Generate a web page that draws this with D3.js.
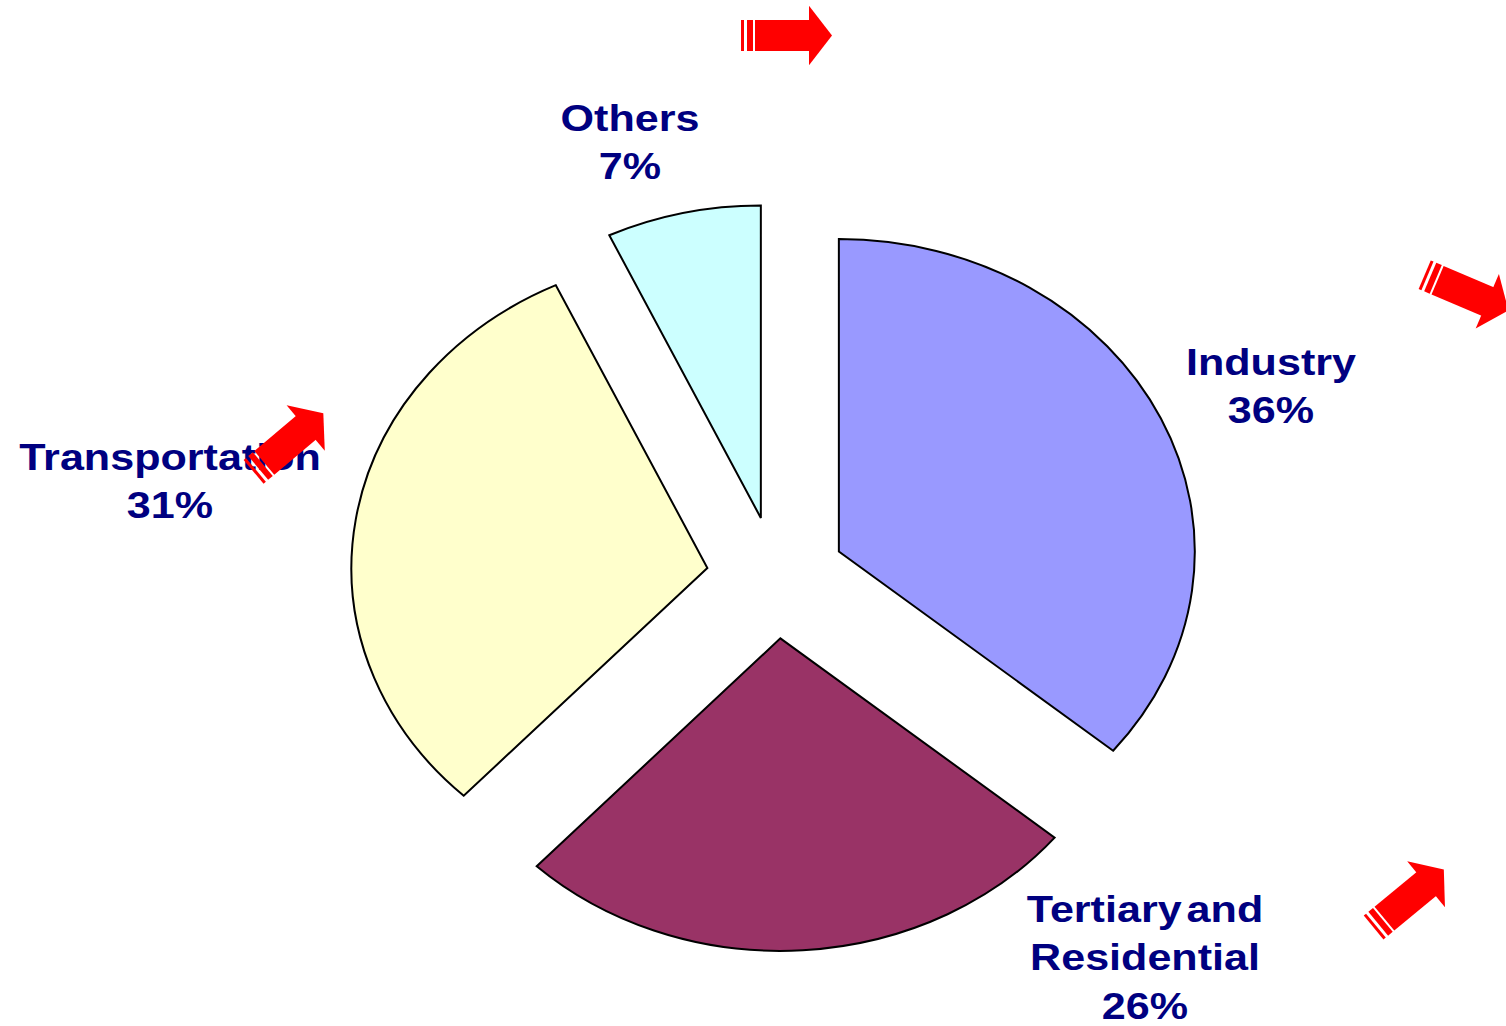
<!DOCTYPE html>
<html>
<head>
<meta charset="utf-8">
<script src="https://cdn.jsdelivr.net/npm/d3@7"></script>
<style>
  html, body { margin: 0; padding: 0; background: #fff; }
  svg { display: block; }
</style>
</head>
<body>
<div id="chart"></div>
<script>
// data
var categories = ["Industry", "Tertiary and Residential", "Transportation", "Others"];
var shares = [36, 26, 31, 7];
var colors = ["#9999ff", "#993366", "#ffffcc", "#ccffff"];
// label lines (category name may wrap)
var labelLines = [["Industry"], ["Tertiary and", "Residential"], ["Transportation"], ["Others"]];

// layout
var width = 1506,
  height = 1026;
var cx = 776,
  cy = 577.5,
  radius = 312.5,
  stretchX = 1.139, // the pie is drawn a bit wider than tall
  explode = 61;
var textStretch = 1.165,
  lineGap = 48.5;
// text anchors (centre x, first baseline)
var labelAnchors = [
  [1271, 375],
  [1145, 922],
  [170, 470],
  [630, 131]
];
// decorative red arrows: tail centre, angle in degrees
var arrows = [
  { x: 741, y: 35.5, angle: 0 },
  { x: 1424.7, y: 274.7, angle: 23 },
  { x: 253.6, y: 471.8, angle: -40 },
  { x: 1373.6, y: 927.5, angle: -39.5 }
];

var svg = d3
  .select("#chart")
  .append("svg")
  .attr("width", width)
  .attr("height", height);

var rows = categories.map(function (c, i) {
  return { name: c, value: shares[i], color: colors[i], lines: labelLines[i], anchor: labelAnchors[i] };
});

var pie = d3
  .pie()
  .sort(null)
  .value(function (d) {
    return d.value;
  });
var arc = d3.arc().innerRadius(0).outerRadius(radius);

var pieG = svg
  .append("g")
  .attr("transform", "translate(" + cx + "," + cy + ") scale(" + stretchX + ",1)");

pieG
  .selectAll("path")
  .data(pie(rows))
  .join("path")
  .attr("transform", function (d) {
    var mid = (d.startAngle + d.endAngle) / 2;
    return "translate(" + explode * Math.sin(mid) + "," + -explode * Math.cos(mid) + ")";
  })
  .attr("d", arc)
  .attr("fill", function (d) {
    return d.data.color;
  })
  .attr("stroke", "#000")
  .attr("stroke-width", 2)
  .attr("stroke-linejoin", "miter")
  .attr("vector-effect", "non-scaling-stroke");

// labels
var fmt = function (v) {
  return v + "%";
};
var labels = svg
  .append("g")
  .attr("font-family", "'Liberation Sans', Arial, sans-serif")
  .attr("font-weight", "bold")
  .attr("font-size", 37)
  .attr("fill", "#000080")
  .attr("text-anchor", "middle")
  .attr("word-spacing", -6)
  .selectAll("g")
  .data(rows)
  .join("g")
  .attr("transform", function (d) {
    return "translate(" + d.anchor[0] + "," + d.anchor[1] + ") scale(" + textStretch + ",1)";
  });

labels
  .selectAll("text")
  .data(function (d) {
    return d.lines.concat([fmt(d.value)]);
  })
  .join("text")
  .attr("x", 0)
  .attr("y", function (d, i) {
    return i * lineGap;
  })
  .text(function (d) {
    return d;
  });

// arrows drawn on top
var arrowG = svg
  .append("g")
  .selectAll("g")
  .data(arrows)
  .join("g")
  .attr("transform", function (d) {
    return "translate(" + d.x + "," + d.y + ") rotate(" + d.angle + ")";
  })
  .attr("fill", "#ff0000");

arrowG.append("rect").attr("x", 0).attr("y", -15.5).attr("width", 3).attr("height", 31);
arrowG.append("rect").attr("x", 6).attr("y", -15.5).attr("width", 6).attr("height", 31);
arrowG.append("rect").attr("x", 14).attr("y", -15.5).attr("width", 55).attr("height", 31);
arrowG.append("path").attr("d", "M68,-29.7L91,0L68,29.7Z");
</script>
</body>
</html>
